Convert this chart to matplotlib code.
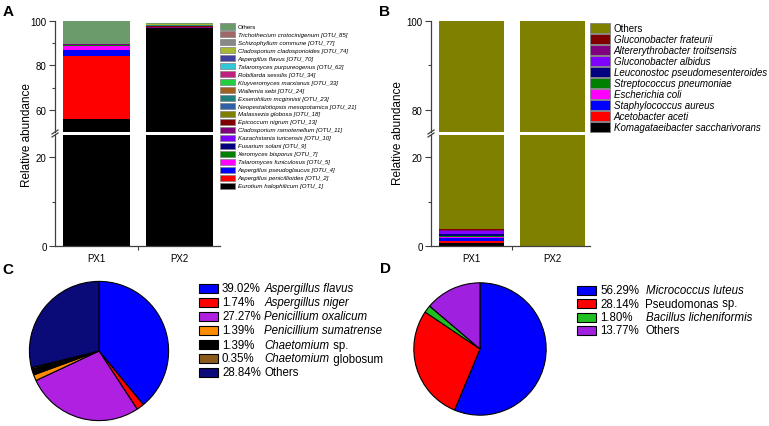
import numpy as np
import matplotlib
matplotlib.use("Agg")
import matplotlib.pyplot as plt
from matplotlib.patches import Rectangle
from matplotlib.lines import Line2D

plt.rcParams['font.family'] = ['Liberation Sans', 'DejaVu Sans']

# ---------------- DATA ----------------
samples = ["PX1", "PX2"]

# Panel A (fungi), bottom -> top stacking order
fungi_taxa = [
    "Eurotium halophilicum [OTU_1]", "Aspergillus penicillioides [OTU_2]",
    "Aspergillus pseudoglaucus [OTU_4]", "Talaromyces funiculosus [OTU_5]",
    "Xeromyces bisporus [OTU_7]", "Fusarium solani [OTU_9]",
    "Kazachstania turicensis [OTU_10]", "Cladosporium ramotenellum [OTU_11]",
    "Epicoccum nigrum [OTU_13]", "Malassezia globosa [OTU_18]",
    "Neopestalotiopsis mesopotamica [OTU_21]", "Exserohilum mcginnisii [OTU_23]",
    "Wallemia sebi [OTU_24]", "Kluyveromyces marxianus [OTU_33]",
    "Robillarda sessilis [OTU_34]", "Talaromyces purpureogenus [OTU_62]",
    "Aspergillus flavus [OTU_70]", "Cladosporium cladosporioides [OTU_74]",
    "Schizophyllum commune [OTU_77]", "Trichothecium crotocinigenum [OTU_85]",
    "Others",
]
fungi_px1 = [56.0, 28.4, 2.7, 1.8, 0.1, 0.3, 0.1, 0.2, 0.1, 0.0, 0.0, 0.0,
             0.0, 0.0, 0.0, 0.0, 0.0, 0.0, 0.0, 0.0, 10.3]
fungi_px2 = [96.9, 0.0, 0.0, 0.0, 0.0, 0.0, 0.0, 0.6, 0.1, 0.2, 0.1, 0.1,
             0.1, 0.1, 0.1, 0.0, 0.1, 0.1, 0.1, 0.1, 0.4]
fungi_colors = ["#000000", "#ff0000", "#0000ff", "#ff00ff", "#008000", "#000080",
                "#8000ff", "#800080", "#800000", "#808000", "#3060a8", "#208080",
                "#a06020", "#20d040", "#c02080", "#30c8d8", "#4040a0", "#a8b830",
                "#888888", "#a06868", "#6b9a6b"]

# Panel B (bacteria), bottom -> top
bact_taxa = ["Komagataeibacter saccharivorans", "Acetobacter aceti",
             "Staphylococcus aureus", "Escherichia coli", "Streptococcus pneumoniae",
             "Leuconostoc pseudomesenteroides", "Gluconobacter albidus",
             "Altererythrobacter troitsensis", "Gluconobacter frateurii", "Others"]
bact_px1 = [0.6, 0.6, 0.5, 0.3, 0.2, 0.6, 0.5, 0.3, 0.2, 96.2]
bact_px2 = [0.0, 0.0, 0.0, 0.0, 0.0, 0.0, 0.0, 0.0, 0.0, 100.0]
bact_colors = ["#000000", "#ff0000", "#0000ff", "#ff00ff", "#008000",
               "#000080", "#8000ff", "#800080", "#800000", "#808000"]

# Panel C (fungal isolates)
c_pct = [39.02, 1.74, 27.27, 1.39, 1.39, 0.35, 28.84]
c_pct_labels = ["39.02%", "1.74%", "27.27%", "1.39%", "1.39%", "0.35%", "28.84%"]
c_names = [[("Aspergillus flavus", "italic")],
           [("Aspergillus niger", "italic")],
           [("Penicillium oxalicum", "italic")],
           [("Penicillium sumatrense", "italic")],
           [("Chaetomium", "italic"), (" sp.", "normal")],
           [("Chaetomium", "italic"), (" globosum", "normal")],
           [("Others", "normal")]]
c_colors = ["#0000ff", "#ff0000", "#b020e0", "#ff8c00", "#000000", "#8b5a1b", "#0a0a78"]

# Panel D (bacterial isolates)
d_pct = [56.29, 28.14, 1.80, 13.77]
d_pct_labels = ["56.29%", "28.14%", "1.80%", "13.77%"]
d_names = [[("Micrococcus luteus", "italic")],
           [("Pseudomonas", "normal"), (" sp.", "normal")],
           [("Bacillus licheniformis", "italic")],
           [("Others", "normal")]]
d_colors = ["#0000ff", "#ff0000", "#20c020", "#a020e0"]

# ---------------- FIGURE ----------------
W, H = 769, 427
fig = plt.figure(figsize=(W / 100, H / 100), dpi=100)
fig.patch.set_facecolor("white")

def axes_px(l, t, r, b):
    return fig.add_axes([l / W, 1 - b / H, (r - l) / W, (b - t) / H])

AXC = "#404040"

def style_axes(ax, top_part):
    for s in ["top", "right"]:
        ax.spines[s].set_visible(False)
    if top_part:
        ax.spines["bottom"].set_visible(False)
        ax.tick_params(axis="x", which="both", bottom=False, labelbottom=False)
    ax.spines["left"].set_color(AXC)
    ax.spines["bottom"].set_color(AXC)
    ax.spines["left"].set_linewidth(0.9)
    ax.spines["bottom"].set_linewidth(0.9)
    ax.tick_params(axis="y", which="major", length=4, width=0.8, color=AXC,
                   labelsize=7, pad=2)
    ax.tick_params(axis="y", which="minor", length=2.5, width=0.8, color=AXC)

def stacked(ax, values_by_sample, colors, width):
    x = np.arange(len(samples))
    vals = np.array(values_by_sample).T  # taxa x samples
    bottoms = np.zeros(len(samples))
    for i in range(vals.shape[0]):
        ax.bar(x, vals[i], width=width, bottom=bottoms, color=colors[i],
               edgecolor="none", linewidth=0)
        bottoms += vals[i]

def break_marks(xpx, ytop, ybot):
    for yy in (ytop, ybot):
        fig.add_artist(Line2D([(xpx - 3) / W, (xpx + 3) / W],
                              [1 - (yy + 2) / H, 1 - (yy - 2) / H],
                              color=AXC, lw=0.9))

def bar_panel(left, right, centers_px, width_px, vals, colors, up_lim, lo_lim,
              up_major, up_minor, lo_major, lo_minor):
    spacing = centers_px[1] - centers_px[0]
    xl = -(centers_px[0] - left) / spacing
    xr = 1 + (right - centers_px[1]) / spacing
    ax_up = axes_px(left, 22, right, 133)
    ax_lo = axes_px(left, 136, right, 247)
    for ax, lim, maj, mnr, top in ((ax_up, up_lim, up_major, up_minor, True),
                                   (ax_lo, lo_lim, lo_major, lo_minor, False)):
        stacked(ax, vals, colors, width_px / spacing)
        ax.set_xlim(xl, xr)
        ax.set_ylim(*lim)
        ax.set_yticks(maj)
        ax.set_yticks(mnr, minor=True)
        style_axes(ax, top)
    ax_lo.set_xticks(range(len(samples)))
    ax_lo.set_xticklabels(samples, fontsize=7)
    ax_lo.tick_params(axis="x", which="major", length=0, pad=5)
    ax_lo.set_xticks([0.5], minor=True)
    ax_lo.tick_params(axis="x", which="minor", length=3, width=0.8, color=AXC)
    break_marks(left, 133, 136)
    return ax_up, ax_lo

# Panel A
bar_panel(55, 220, (96.5, 179.5), 67, [fungi_px1, fungi_px2], fungi_colors,
          (50, 100), (0, 25), [60, 80, 100], [70, 90], [0, 20], [10])
fig.text(27 / W, 1 - 135 / H, "Relative abundance", rotation=90, fontsize=8.5,
         ha="center", va="center")

# Panel B
bar_panel(431, 590, (471, 552.5), 65, [bact_px1, bact_px2], bact_colors,
          (75, 100), (0, 25), [80, 100], [90], [0, 20], [10])
fig.text(398 / W, 1 - 133 / H, "Relative abundance", rotation=90, fontsize=8.5,
         ha="center", va="center")

# Legend A (top entry = last taxon)
for k, idx in enumerate(range(len(fungi_taxa) - 1, -1, -1)):
    yc = 27.3 + k * 7.97
    fig.add_artist(Rectangle((220 / W, 1 - (yc + 3.2) / H), 15 / W, 6.4 / H,
                             facecolor=fungi_colors[idx], edgecolor="#808080",
                             lw=0.5, transform=fig.transFigure))
    name = fungi_taxa[idx]
    fig.text(237.5 / W, 1 - yc / H, name, fontsize=4.4, va="center", ha="left",
             style="normal" if name == "Others" else "italic")

# Legend B
fig.add_artist(Rectangle((586 / W, 1 - 135 / H), 140 / W, 113 / H,
                         facecolor="white", edgecolor="none",
                         transform=fig.transFigure))
for k, idx in enumerate(range(len(bact_taxa) - 1, -1, -1)):
    yc = 29 + k * 11.0
    fig.add_artist(Rectangle((590 / W, 1 - (yc + 5) / H), 20 / W, 10 / H,
                             facecolor=bact_colors[idx], edgecolor="#808080",
                             lw=0.6, transform=fig.transFigure))
    name = bact_taxa[idx]
    fig.text(613.5 / W, 1 - yc / H, name, fontsize=7, va="center", ha="left",
             style="normal" if name == "Others" else "italic")

# Pies
def pie_panel(cx, cy, r, vals, colors):
    ax = axes_px(cx - r, cy - r, cx + r, cy + r)
    ax.pie(vals, colors=colors, startangle=90, counterclock=False, radius=1,
           wedgeprops=dict(edgecolor="black", linewidth=0.8))
    ax.set_xlim(-1.02, 1.02)
    ax.set_ylim(-1.02, 1.02)
    ax.set_aspect("equal")
    ax.axis("off")

pie_panel(99, 352, 71, c_pct, c_colors)
pie_panel(480, 350, 67.5, d_pct, d_colors)

renderer = fig.canvas.get_renderer()

def segmented_text(xpx, ypx, parts, fs):
    x = xpx
    for txt, st in parts:
        t = fig.text(x / W, 1 - ypx / H, txt, fontsize=fs, style=st,
                     va="center", ha="left")
        bb = t.get_window_extent(renderer=renderer)
        x += bb.width

def pie_legend(px_left, rows_y, pct_x, name_x, pcts, names, colors, fs):
    for yc, p, nm, col in zip(rows_y, pcts, names, colors):
        fig.add_artist(Rectangle((px_left / W, 1 - (yc + 4.5) / H), 19 / W, 9 / H,
                                 facecolor=col, edgecolor="black", lw=0.8,
                                 transform=fig.transFigure))
        fig.text(pct_x / W, 1 - yc / H, p, fontsize=fs, va="center", ha="left")
        segmented_text(name_x, yc, nm, fs)

pie_legend(199, [289, 303.2, 317.3, 331.5, 345.6, 359.5, 373.4], 222, 264.5,
           c_pct_labels, c_names, c_colors, 8.3)
pie_legend(577, [291, 304.5, 318, 331.5], 600, 645.5,
           d_pct_labels, d_names, d_colors, 8.3)

# Panel letters
for lab, x, y in (("A", 8, 12), ("B", 384, 12), ("C", 8, 270), ("D", 385, 269)):
    fig.text(x / W, 1 - y / H, lab, fontsize=11, fontweight="bold",
             ha="center", va="center")

fig.savefig("out.png", dpi=100)
